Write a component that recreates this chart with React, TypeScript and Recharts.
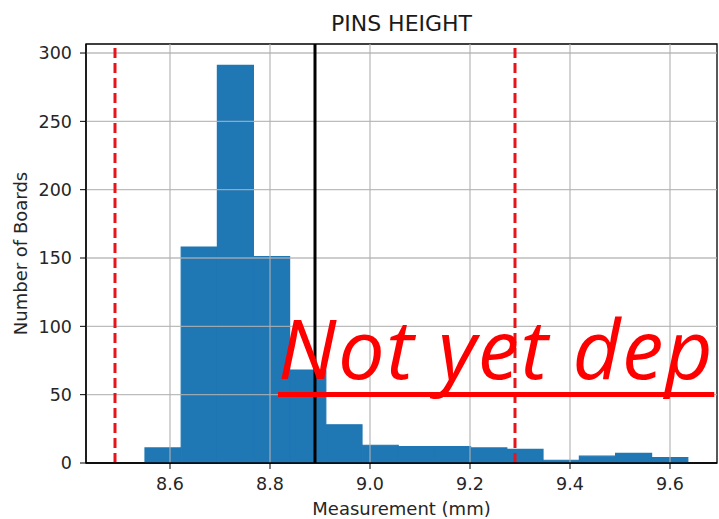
import { Bar, ComposedChart, Label, ReferenceArea, ReferenceLine, XAxis, YAxis } from 'recharts';

// histogram bins (mm)
const binEdges = [
  8.55, 8.6224, 8.6948, 8.7672, 8.8396, 8.912, 8.9844, 9.0568,
  9.1292, 9.2016, 9.274, 9.3464, 9.4188, 9.4912, 9.5636, 9.636,
];
const boardCounts = [11, 158, 291, 151, 68, 28, 13, 12, 12, 11, 10, 2, 5, 7, 4];

const xTicks = [8.6, 8.8, 9.0, 9.2, 9.4, 9.6];
const yTicks = [0, 50, 100, 150, 200, 250, 300];
const xDomain = [8.432, 9.694];
const yDomain = [0, 306.6];

const meanLine = 8.89;
const specLimits = [8.49, 9.29];

const bins = boardCounts.map((count, i) => ({
  mid: (binEdges[i] + binEdges[i + 1]) / 2,
  count,
}));

const FONT = '"DejaVu Sans", sans-serif';
const tickStyle = { fontSize: 17.5, fill: '#262626', fontFamily: FONT };
const GRID = '#b0b0b0';

export default function App() {
  return (
    <div style={{ position: 'relative', width: 719, height: 519, overflow: 'hidden', background: '#fff' }}>
      <style>{'body { margin: 0; }'}</style>
      <div
        style={{
          position: 'absolute', left: 0, width: 803, top: 11, textAlign: 'center',
          fontFamily: FONT, fontSize: 22, color: '#1a1a1a',
        }}
      >
        PINS HEIGHT
      </div>
      <ComposedChart
        width={719}
        height={519}
        data={bins}
        margin={{ top: 44, right: 2, bottom: 0, left: 0 }}
        barCategoryGap={0}
        barGap={0}
      >
        <XAxis
          dataKey="mid"
          type="number"
          domain={xDomain}
          ticks={xTicks}
          allowDataOverflow
          height={56}
          tickFormatter={(v: number) => v.toFixed(1)}
          tick={tickStyle}
          tickMargin={9}
          axisLine={{ stroke: '#000', strokeWidth: 1.3 }}
          tickLine={{ stroke: '#000' }}
        >
          <Label
            value="Measurement (mm)"
            position="insideBottom"
            offset={4}
            style={{ fontSize: 18, fill: '#262626', fontFamily: FONT }}
          />
        </XAxis>
        <YAxis
          type="number"
          domain={yDomain}
          ticks={yTicks}
          allowDataOverflow
          width={86}
          tick={tickStyle}
          tickMargin={8}
          axisLine={{ stroke: '#000', strokeWidth: 1.3 }}
          tickLine={{ stroke: '#000' }}
        >
          <Label
            content={({ viewBox }: any) => (
              <text
                x={27}
                y={viewBox.y + viewBox.height / 2}
                transform={`rotate(-90, 27, ${viewBox.y + viewBox.height / 2})`}
                textAnchor="middle"
                style={{ fontSize: 18, fill: '#262626', fontFamily: FONT }}
              >
                Number of Boards
              </text>
            )}
          />
        </YAxis>
        <Bar
          dataKey="count"
          fill="#1f77b4"
          stroke="#1f77b4"
          strokeWidth={1.2}
          isAnimationActive={false}
        />
        {/* grid sits above the bars, as in the original */}
        {xTicks.map((v) => (
          <ReferenceLine key={`gx${v}`} x={v} stroke={GRID} strokeOpacity={0.85} strokeWidth={1.3} />
        ))}
        {yTicks.slice(1).map((v) => (
          <ReferenceLine key={`gy${v}`} y={v} stroke={GRID} strokeOpacity={0.85} strokeWidth={1.3} />
        ))}
        <ReferenceArea
          x1={xDomain[0]}
          x2={xDomain[1]}
          y1={yDomain[0]}
          y2={yDomain[1]}
          fill="none"
          stroke="#000"
          strokeWidth={1.3}
          ifOverflow="visible"
        />
        {specLimits.map((v) => (
          <ReferenceLine key={v} x={v} stroke="#e8141c" strokeWidth={3} strokeDasharray="10 5" />
        ))}
        <ReferenceLine x={meanLine} stroke="#000" strokeWidth={3} />
      </ComposedChart>
      <div
        style={{
          position: 'absolute', left: 278, top: 305, whiteSpace: 'nowrap',
          fontFamily: '"Open Sans", sans-serif', fontStyle: 'italic', fontSize: 83, lineHeight: '84px',
          letterSpacing: 1.5, color: '#ff0000', textDecoration: 'underline',
          textDecorationThickness: 5, textUnderlineOffset: 13, textDecorationSkipInk: 'none',
        }}
      >
        Not yet dep
      </div>
    </div>
  );
}
